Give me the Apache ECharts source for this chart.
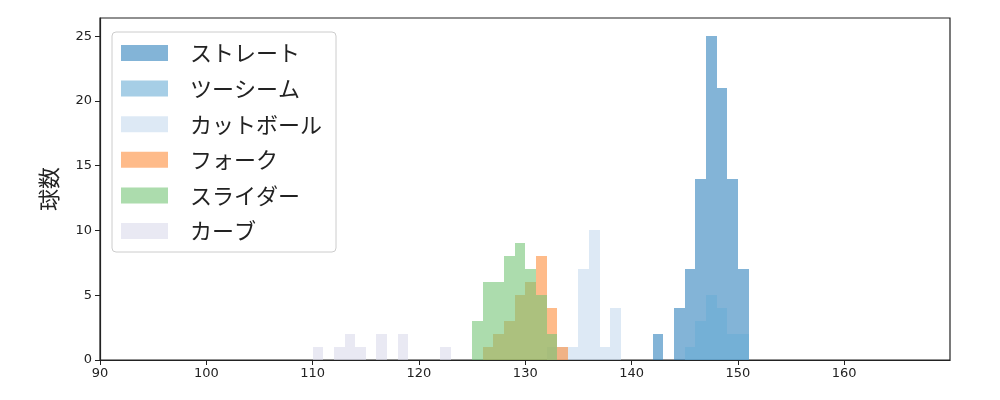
<!DOCTYPE html>
<html>
<head>
<meta charset="utf-8">
<script src="https://cdn.jsdelivr.net/npm/echarts@6/dist/echarts.min.js"></script>
<style>html,body{margin:0;padding:0;background:#fff}#c{width:1000px;height:400px}</style>
</head>
<body>
<div id="c"></div>
<script>
// Histogram data: bin start (bin width 1 km/h) and count
const seriesNames = ['ストレート', 'ツーシーム', 'カットボール', 'フォーク', 'スライダー', 'カーブ'];
const straightBins = [142, 143, 144, 145, 146, 147, 148, 149, 150];
const straightCounts = [2, 0, 4, 7, 14, 25, 21, 14, 7];
const twoSeamBins = [145, 146, 147, 148, 149, 150];
const twoSeamCounts = [1, 3, 5, 4, 2, 2];
const cutBins = [132, 133, 134, 135, 136, 137, 138];
const cutCounts = [1, 1, 1, 7, 10, 1, 4];
const forkBins = [126, 127, 128, 129, 130, 131, 132, 133];
const forkCounts = [1, 2, 3, 5, 6, 8, 4, 1];
const sliderBins = [125, 126, 127, 128, 129, 130, 131, 132];
const sliderCounts = [3, 6, 6, 8, 9, 7, 5, 2];
const curveBins = [110, 112, 113, 114, 116, 118, 122];
const curveCounts = [1, 1, 2, 1, 2, 2, 1];
const xTicks = [90, 100, 110, 120, 130, 140, 150, 160];
const yTicks = [0, 5, 10, 15, 20, 25];

const colors = [
  'rgba(49,130,189,0.6)',
  'rgba(107,174,214,0.6)',
  'rgba(198,219,239,0.6)',
  'rgba(253,141,60,0.6)',
  'rgba(116,196,118,0.6)',
  'rgba(218,218,235,0.6)'
];
const binSets = [
  [straightBins, straightCounts],
  [twoSeamBins, twoSeamCounts],
  [cutBins, cutCounts],
  [forkBins, forkCounts],
  [sliderBins, sliderCounts],
  [curveBins, curveCounts]
];

function renderItem(params, api) {
  const x0 = api.value(0), x1 = api.value(1), c = api.value(2);
  const p0 = api.coord([x0, 0]);
  const p1 = api.coord([x1, c]);
  const l = Math.round(p0[0]), r = Math.round(p1[0]);
  const t = Math.round(p1[1]), b = Math.round(p0[1]);
  return {
    type: 'rect',
    shape: { x: l, y: t, width: r - l, height: b - t },
    style: { fill: api.visual('color'), stroke: null, lineWidth: 0 }
  };
}

const series = binSets.map((bs, i) => ({
  name: seriesNames[i],
  type: 'custom',
  renderItem: renderItem,
  itemStyle: { color: colors[i] },
  encode: { x: [0, 1], y: 2 },
  data: bs[0].map((b, j) => [b, b + 1, bs[1][j]]).filter(d => d[2] > 0),
  z: 2 + i
}));

const chart = echarts.init(document.getElementById('c'));
chart.setOption({
  animation: false,
  textStyle: { fontFamily: 'DejaVu Sans, "Noto Sans CJK JP"' },
  grid: { left: 100, right: 50, top: 18, bottom: 40, show: true, borderColor: '#222', borderWidth: 1.2, backgroundColor: 'transparent' },
  xAxis: {
    type: 'value', min: 90, max: 169.95, interval: 10,
    axisLine: { show: true, lineStyle: { color: '#222', width: 1.2 } },
    axisTick: { show: true, length: 5, lineStyle: { color: '#222' }, customValues: xTicks },
    axisLabel: { color: '#222', fontSize: 13, margin: 7, customValues: xTicks },
    splitLine: { show: false }
  },
  yAxis: {
    type: 'value', min: 0, max: 26.4, interval: 5,
    name: '球数', nameLocation: 'middle', nameGap: 40,
    nameTextStyle: { fontSize: 22, color: '#222', fontFamily: '"Noto Sans CJK JP"' },
    axisLine: { show: true, lineStyle: { color: '#222', width: 1.2 } },
    axisTick: { show: true, length: 5, lineStyle: { color: '#222' }, customValues: yTicks },
    axisLabel: { color: '#222', fontSize: 13, margin: 8, customValues: yTicks },
    splitLine: { show: false }
  },
  legend: {
    orient: 'vertical', left: 112, top: 32,
    data: seriesNames.map((n, i) => ({ name: n, icon: 'rect', itemStyle: { color: colors[i] } })),
    itemWidth: 47, itemHeight: 16, itemGap: 13.6,
    padding: [10, 14, 10, 9],
    borderColor: '#ccc', borderWidth: 1, borderRadius: 4, backgroundColor: 'rgba(255,255,255,0.8)',
    textStyle: { fontSize: 22, color: '#222', lineHeight: 22, padding: [0, 0, 0, 17], fontFamily: '"Noto Sans CJK JP"' },
    selectedMode: false
  },
  series: series
});
</script>
</body>
</html>
